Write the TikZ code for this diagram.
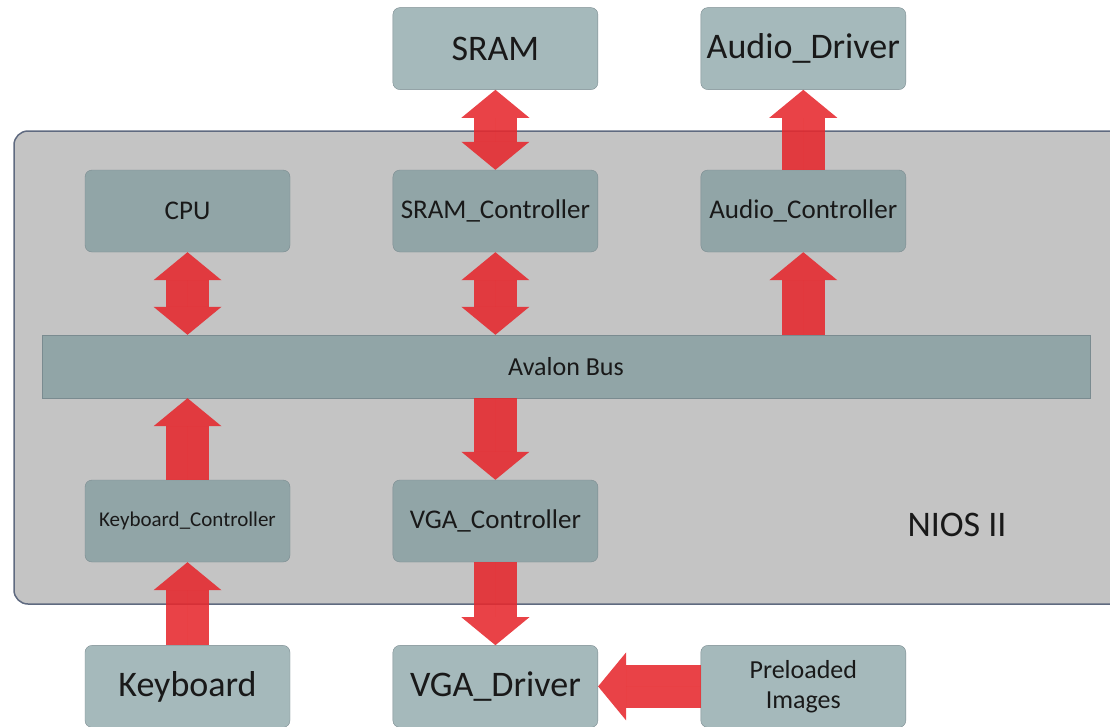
\documentclass[tikz,border=0pt]{standalone}
\usepackage{fontspec}
\setmainfont{Carlito}
\usetikzlibrary{positioning,arrows.meta}
\definecolor{niosgray}{HTML}{C4C4C4}
\definecolor{niosline}{HTML}{5F6A80}
\definecolor{boxfill}{RGB}{119,149,152}
\definecolor{boxline}{HTML}{7A8B90}
\definecolor{arrowred}{RGB}{230,40,45}

\begin{document}
\begin{tikzpicture}[x=1pt,y=-1pt,
    box/.style={rectangle,rounded corners=7pt,draw=boxline,fill=boxfill,
                fill opacity=0.66,text opacity=1,text=black!90,
                minimum width=205pt,minimum height=82pt,inner sep=0pt,
                align=center,font=\fontsize{27}{30}\selectfont},
    big/.style={font=\fontsize{36}{40}\selectfont},
    link/.style={line width=43pt,draw=arrowred,fill=arrowred,opacity=0.88,
                 >={Triangle[width=68pt,length=28pt,line width=0pt]}}]
  \useasboundingbox (0,0) rectangle (1110,726);
  % NIOS II frame
  \draw[fill=niosgray,draw=niosline,line width=1.5pt,rounded corners=14pt]
    (14,131) rectangle (1130,604);
  \node[font=\fontsize{36}{40}\selectfont,text=black!90] (nios) at (957,525) {NIOS II};
  % blocks inside NIOS II
  \node[box] (cpu) at (187.5,211) {CPU};
  \node[box,right=102.5pt of cpu] (sramc) {SRAM\_Controller};
  \node[box,right=102.5pt of sramc] (audioc) {Audio\_Controller};
  \node[box,rounded corners=0pt,minimum width=1048pt,minimum height=63pt,
        font=\fontsize{26}{30}\selectfont] (avalon) at (566,366.5) {Avalon Bus};
  \node[box,font=\fontsize{21}{24}\selectfont] (kbc) at (187.5,521) {Keyboard\_Controller};
  \node[box,right=102.5pt of kbc] (vgac) {VGA\_Controller};
  % outside blocks
  \node[box,big,above=80pt of sramc] (sram) {SRAM};
  \node[box,big,above=80pt of audioc] (audiod) {Audio\_Driver};
  \node[box,big,below=83pt of kbc] (kb) {Keyboard};
  \node[box,big,below=83pt of vgac] (vgad) {VGA\_Driver};
  \node[box,font=\fontsize{26}{30}\selectfont,right=102.5pt of vgad] (pre) {Preloaded\\Images};
  % arrows
  \draw[link,<->] (sram) -- (sramc);
  \draw[link,->] (audioc) -- (audiod);
  \draw[link,<->] (cpu) -- (cpu |- avalon.north);
  \draw[link,<->] (sramc) -- (sramc |- avalon.north);
  \draw[link,->] (audioc |- avalon.north) -- (audioc);
  \draw[link,->] (kbc) -- (kbc |- avalon.south);
  \draw[link,->] (vgac |- avalon.south) -- (vgac);
  \draw[link,->] (kb) -- (kbc);
  \draw[link,->] (vgac) -- (vgad);
  \draw[link,->] (pre) -- (vgad);
\end{tikzpicture}
\end{document}
